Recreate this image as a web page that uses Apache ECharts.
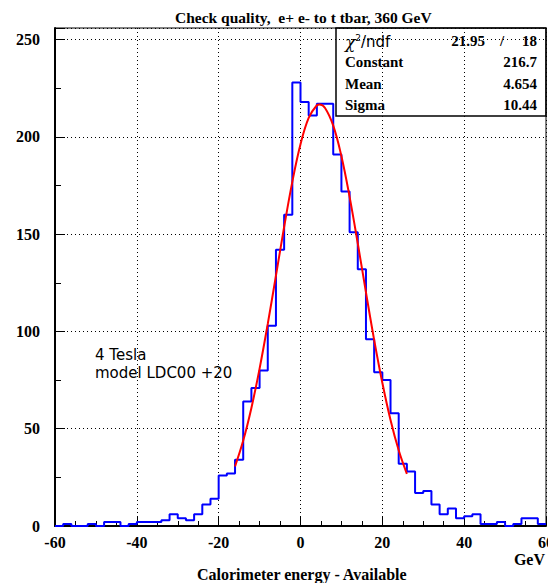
<!DOCTYPE html>
<html>
<head>
<meta charset="utf-8">
<script src="https://cdn.jsdelivr.net/npm/echarts@6/dist/echarts.min.js"></script>
<style>
html,body{margin:0;padding:0;background:#fff;}
#chart{width:548px;height:583px;}
</style>
</head>
<body>
<div id="chart"></div>
<script>
// ---- data ----
const xMin = -60;
const xMax = 60;
const binWidth = 2;
// counts per 2 GeV bin, from -60 to 60
const counts = [
  0, 1, 0, 0, 1, 0, 2, 2, 0, 1,
  2, 2, 2, 3, 6, 4, 3, 6, 11, 14,
  26, 27, 34, 64, 71, 80, 103, 142, 160, 228,
  218, 211, 217, 217, 191, 172, 151, 132, 96, 79,
  75, 58, 32, 28, 17, 18, 11, 6, 9, 4,
  5, 6, 1, 1, 2, 0, 1, 4, 4, 1
];
// red fit curve
const fitX = [-16, -14, -12, -10, -8, -6, -4, -2, 0, 2, 4, 4.65, 6, 8, 10, 12, 14, 16, 18, 20, 22, 24, 26];
const fitY = [30.6, 43.9, 60.7, 80.9, 103.9, 128.7, 153.7, 176.9, 196.2, 209.8, 216.3, 216.7, 214.9, 205.8, 190.1, 169.2, 145.2, 120.1, 95.7, 73.6, 54.5, 38.9, 26.8];
const xTicks = [-60, -40, -20, 0, 20, 40, 60];
const yTicks = [0, 50, 100, 150, 200, 250];
const statNames = ['Constant', 'Mean', 'Sigma'];
const statValues = ['216.7', '4.654', '10.44'];
const chi2 = '21.95';
const ndf = '18';

// ---- build series data ----
const histData = counts.map((c, i) => [xMin + i * binWidth, c]);
histData.push([xMax, counts[counts.length - 1]]);
const fitData = fitX.map((x, i) => [x, fitY[i]]);

const serif = 'Liberation Serif';
const chart = echarts.init(document.getElementById('chart'), null, {renderer: 'svg'});

const statRows = [];
const rowY = [63, 85, 106];
statNames.forEach((n, i) => {
  statRows.push({type: 'text', left: 345, top: rowY[i] - 9,
    style: {text: n, font: 'bold 15px "Liberation Serif"', fill: '#000'}});
  statRows.push({type: 'text', right: 548 - 537, top: rowY[i] - 9,
    style: {text: statValues[i], font: 'bold 15px "Liberation Serif"', fill: '#000', align: 'right'}});
});

chart.setOption({
  animation: false,
  backgroundColor: '#fff',
  title: {
    text: 'Check quality,  e+ e- to t tbar, 360 GeV',
    left: 170, top: 4,
    textStyle: {fontFamily: serif, fontWeight: 'bold', fontSize: 15.5, color: '#000'}
  },
  grid: {left: 55, right: 2, top: 28, bottom: 57, outerBoundsMode: 'none', containLabel: false,
    show: true, borderColor: '#000', borderWidth: 1, backgroundColor: 'transparent'},
  xAxis: {
    type: 'value', min: xMin, max: xMax, interval: 20,
    axisLine: {show: true, onZero: false, lineStyle: {color: '#000', width: 2}},
    axisTick: {show: true, inside: true, length: 10, lineStyle: {color: '#000', width: 1}},
    minorTick: {show: true, splitNumber: 4, length: 5, lineStyle: {color: '#000', width: 1}},
    splitLine: {show: true, lineStyle: {color: '#000', width: 1, type: [1, 3]}},
    axisLabel: {margin: 8, hideOverlap: false, fontFamily: serif, fontWeight: 'bold', fontSize: 16, color: '#000',
      formatter: v => (xTicks.indexOf(v) >= 0 ? String(v) : '')}
  },
  yAxis: {
    type: 'value', min: 0, max: 256, interval: 50,
    axisLine: {show: true, onZero: false, lineStyle: {color: '#000', width: 2}},
    axisTick: {show: true, inside: true, length: 10, lineStyle: {color: '#000', width: 1}},
    minorTick: {show: true, splitNumber: 2, length: 6, lineStyle: {color: '#000', width: 1}},
    splitLine: {show: true, lineStyle: {color: '#000', width: 1, type: [1, 3]}},
    axisLabel: {margin: 15, showMaxLabel: false, fontFamily: serif, fontWeight: 'bold', fontSize: 16, color: '#000',
      formatter: v => (yTicks.indexOf(v) >= 0 ? String(v) : '')}
  },
  series: [
    {type: 'line', data: histData, step: 'end', symbol: 'none',
      lineStyle: {color: '#0000ff', width: 2}, z: 3},
    {type: 'line', data: fitData, smooth: 0.4, symbol: 'none',
      lineStyle: {color: '#ff0000', width: 2}, z: 4}
  ],
  graphic: [
    {type: 'rect', shape: {x: 336, y: 28, width: 210, height: 88},
      style: {fill: 'none', stroke: '#000', lineWidth: 1.5}, z: 10},
    {type: 'text', left: 345, top: 33,
      style: {text: '{c|χ}{s|2}{n|/ndf}',
        rich: {c: {fontFamily: 'DejaVu Serif', fontStyle: 'italic', fontSize: 17, fill: '#000'},
               s: {fontFamily: 'DejaVu Sans', fontSize: 9, verticalAlign: 'top', fill: '#000', padding: [0, 0, 8, 0]},
               n: {fontFamily: 'DejaVu Sans', fontSize: 15, fill: '#000'}}}},
    {type: 'text', right: 548 - 485, top: 33,
      style: {text: chi2, font: 'bold 15px "Liberation Serif"', fill: '#000'}},
    {type: 'text', left: 500, top: 33,
      style: {text: '/', font: 'bold 15px "Liberation Serif"', fill: '#000'}},
    {type: 'text', right: 548 - 537, top: 33,
      style: {text: ndf, font: 'bold 15px "Liberation Serif"', fill: '#000'}},
    ...statRows,
    {type: 'text', left: 95, top: 347,
      style: {text: '4 Tesla', font: '15px "DejaVu Sans"', fill: '#000'}},
    {type: 'text', left: 95, top: 365,
      style: {text: 'model LDC00 +20', font: '15px "DejaVu Sans"', fill: '#000'}},
    {type: 'text', right: 3, top: 551,
      style: {text: 'GeV', font: 'bold 16px "Liberation Serif"', fill: '#000'}},
    {type: 'text', left: 197, top: 566,
      style: {text: 'Calorimeter energy - Available', font: 'bold 16px "Liberation Serif"', fill: '#000'}}
  ]
});
</script>
</body>
</html>
